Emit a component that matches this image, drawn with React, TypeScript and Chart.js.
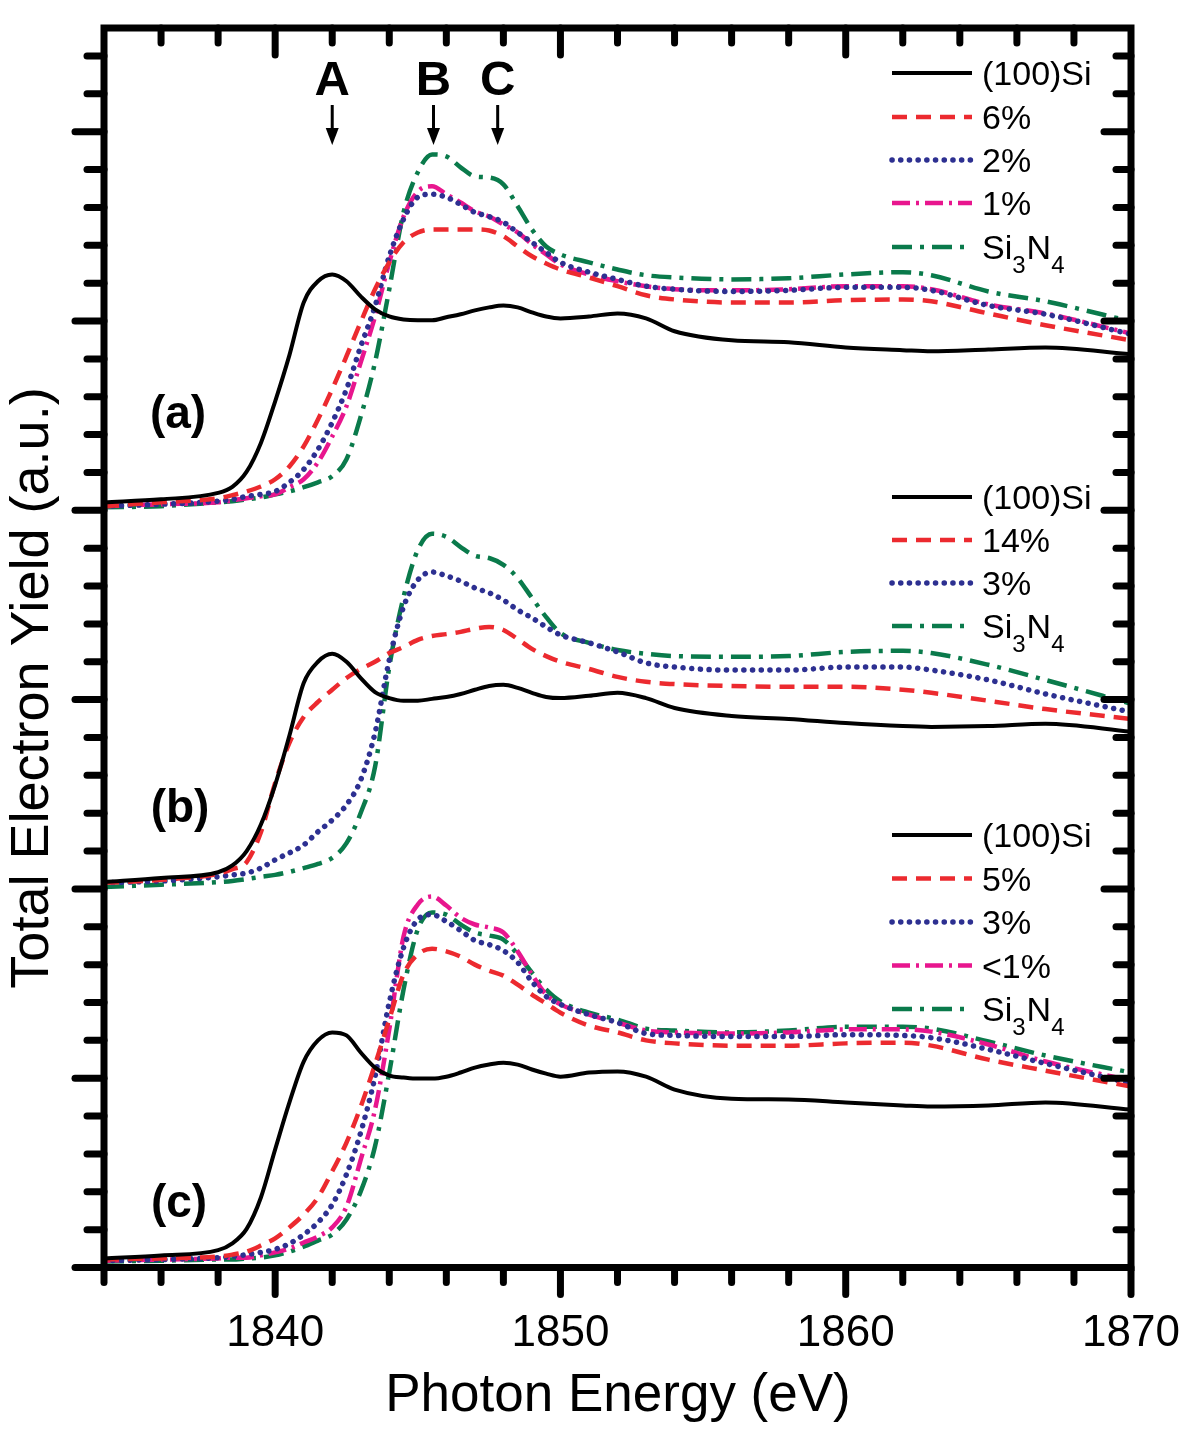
import React, { useEffect, useRef } from 'react';
import { Chart, registerables } from 'chart.js';

Chart.register(...registerables);

// ---------- data ----------
const energy = [1834, 1836, 1838, 1838.5, 1839, 1839.5, 1840, 1840.5, 1841, 1841.5, 1842, 1842.5, 1843, 1843.5, 1844, 1844.5, 1845, 1845.5, 1846, 1846.5, 1847, 1847.5, 1848, 1848.5, 1849, 1849.5, 1850, 1851, 1852, 1853, 1854, 1856, 1858, 1860, 1862, 1863, 1865, 1867, 1870];

// panel (a)
const aSi100 = [0.021, 0.029, 0.046, 0.062, 0.102, 0.178, 0.288, 0.410, 0.549, 0.605, 0.623, 0.605, 0.565, 0.531, 0.512, 0.504, 0.502, 0.502, 0.510, 0.518, 0.528, 0.536, 0.541, 0.536, 0.523, 0.512, 0.507, 0.512, 0.520, 0.507, 0.473, 0.449, 0.444, 0.430, 0.423, 0.420, 0.425, 0.430, 0.412];
const a6pct = [0.011, 0.021, 0.032, 0.040, 0.050, 0.063, 0.082, 0.116, 0.169, 0.240, 0.320, 0.407, 0.497, 0.584, 0.655, 0.708, 0.734, 0.742, 0.742, 0.742, 0.742, 0.739, 0.724, 0.697, 0.671, 0.652, 0.636, 0.615, 0.592, 0.568, 0.557, 0.549, 0.549, 0.555, 0.557, 0.552, 0.520, 0.489, 0.449];
const a2pct = [0.011, 0.016, 0.024, 0.029, 0.037, 0.042, 0.050, 0.074, 0.108, 0.161, 0.232, 0.320, 0.433, 0.539, 0.671, 0.769, 0.827, 0.835, 0.827, 0.808, 0.787, 0.776, 0.761, 0.734, 0.708, 0.681, 0.655, 0.629, 0.610, 0.592, 0.584, 0.578, 0.581, 0.589, 0.589, 0.581, 0.541, 0.518, 0.465];
const a1pct = [0.011, 0.016, 0.021, 0.026, 0.032, 0.037, 0.042, 0.061, 0.082, 0.127, 0.195, 0.275, 0.391, 0.512, 0.655, 0.776, 0.842, 0.856, 0.835, 0.813, 0.790, 0.776, 0.755, 0.734, 0.703, 0.676, 0.650, 0.623, 0.605, 0.592, 0.584, 0.581, 0.584, 0.592, 0.592, 0.584, 0.544, 0.520, 0.467];
const aSi3N4 = [0.008, 0.011, 0.021, 0.024, 0.029, 0.034, 0.042, 0.050, 0.061, 0.074, 0.090, 0.135, 0.248, 0.391, 0.584, 0.787, 0.893, 0.940, 0.935, 0.906, 0.882, 0.879, 0.861, 0.803, 0.742, 0.697, 0.676, 0.655, 0.636, 0.621, 0.615, 0.610, 0.613, 0.623, 0.629, 0.621, 0.578, 0.552, 0.499];

// panel (b)
const bSi100 = [0.018, 0.029, 0.044, 0.062, 0.100, 0.170, 0.275, 0.405, 0.544, 0.600, 0.621, 0.600, 0.557, 0.520, 0.504, 0.497, 0.497, 0.502, 0.507, 0.515, 0.526, 0.536, 0.539, 0.531, 0.518, 0.507, 0.504, 0.510, 0.518, 0.504, 0.478, 0.457, 0.449, 0.438, 0.430, 0.428, 0.430, 0.436, 0.415];
const b14pct = [0.016, 0.024, 0.040, 0.052, 0.071, 0.150, 0.280, 0.386, 0.454, 0.494, 0.526, 0.557, 0.581, 0.600, 0.623, 0.639, 0.658, 0.668, 0.673, 0.679, 0.687, 0.692, 0.684, 0.660, 0.634, 0.615, 0.600, 0.581, 0.560, 0.547, 0.541, 0.536, 0.534, 0.534, 0.526, 0.518, 0.497, 0.475, 0.449];
const b3pct = [0.016, 0.021, 0.032, 0.037, 0.042, 0.055, 0.077, 0.095, 0.116, 0.151, 0.182, 0.222, 0.288, 0.412, 0.605, 0.745, 0.816, 0.837, 0.827, 0.813, 0.795, 0.782, 0.763, 0.737, 0.716, 0.692, 0.671, 0.650, 0.626, 0.597, 0.586, 0.578, 0.578, 0.586, 0.586, 0.578, 0.552, 0.515, 0.467];
const bSi3N4 = [0.005, 0.011, 0.018, 0.021, 0.026, 0.032, 0.037, 0.045, 0.055, 0.066, 0.082, 0.121, 0.201, 0.322, 0.586, 0.771, 0.895, 0.938, 0.930, 0.903, 0.880, 0.874, 0.856, 0.821, 0.769, 0.718, 0.676, 0.650, 0.631, 0.621, 0.615, 0.613, 0.615, 0.626, 0.629, 0.623, 0.592, 0.552, 0.489];

// panel (c)
const cSi100 = [0.024, 0.032, 0.046, 0.064, 0.102, 0.185, 0.312, 0.436, 0.544, 0.600, 0.621, 0.613, 0.568, 0.528, 0.507, 0.502, 0.499, 0.499, 0.504, 0.515, 0.528, 0.536, 0.541, 0.536, 0.523, 0.512, 0.504, 0.515, 0.518, 0.504, 0.470, 0.446, 0.444, 0.436, 0.428, 0.425, 0.428, 0.436, 0.417];
const c5pct = [0.021, 0.024, 0.029, 0.034, 0.042, 0.058, 0.077, 0.106, 0.140, 0.185, 0.254, 0.330, 0.425, 0.536, 0.655, 0.774, 0.827, 0.842, 0.835, 0.821, 0.800, 0.784, 0.771, 0.747, 0.721, 0.697, 0.673, 0.639, 0.621, 0.600, 0.592, 0.586, 0.586, 0.592, 0.594, 0.586, 0.549, 0.520, 0.478];
const c3pct = [0.018, 0.021, 0.026, 0.029, 0.034, 0.040, 0.048, 0.063, 0.087, 0.119, 0.166, 0.246, 0.357, 0.504, 0.700, 0.845, 0.919, 0.932, 0.914, 0.890, 0.864, 0.853, 0.837, 0.806, 0.755, 0.716, 0.695, 0.668, 0.647, 0.618, 0.613, 0.610, 0.610, 0.615, 0.613, 0.607, 0.576, 0.539, 0.486];
const cLt1pct = [0.018, 0.021, 0.024, 0.026, 0.026, 0.032, 0.040, 0.050, 0.066, 0.082, 0.106, 0.161, 0.285, 0.417, 0.629, 0.874, 0.959, 0.980, 0.956, 0.924, 0.906, 0.898, 0.885, 0.835, 0.774, 0.721, 0.695, 0.668, 0.647, 0.626, 0.621, 0.618, 0.621, 0.629, 0.629, 0.623, 0.589, 0.544, 0.494];
const cSi3N4 = [0.016, 0.018, 0.021, 0.021, 0.024, 0.026, 0.032, 0.042, 0.055, 0.071, 0.087, 0.127, 0.201, 0.320, 0.515, 0.734, 0.893, 0.938, 0.932, 0.906, 0.885, 0.877, 0.866, 0.827, 0.779, 0.734, 0.703, 0.673, 0.655, 0.631, 0.626, 0.621, 0.626, 0.636, 0.636, 0.631, 0.597, 0.560, 0.515];

// vertical offsets of the stacked panels (a.u.)
const panelOffsets = [2.0, 1.0, 0.0];
const panelTags = ['(a)', '(b)', '(c)'];

const legendA = ['(100)Si', '6%', '2%', '1%', 'Si_3N_4'];
const legendB = ['(100)Si', '14%', '3%', 'Si_3N_4'];
const legendC = ['(100)Si', '5%', '3%', '<1%', 'Si_3N_4'];

const peakLabels = ['A', 'B', 'C'];
const peakEnergies = [1842.0, 1845.55, 1847.8];

const xTickLabels = [1840, 1850, 1860, 1870];
const X_MIN = 1834;
const X_MAX = 1870;
const Y_MIN = 0;
const Y_MAX = 3.274;

// ---------- styles ----------
type Sty = { color: string; dash: number[]; width: number; cap: CanvasLineCap };
const STYLES: Record<string, Sty> = {
  si: { color: '#000000', dash: [], width: 4, cap: 'butt' },
  red: { color: '#ec2a2f', dash: [15, 9], width: 4.5, cap: 'butt' },
  blue: { color: '#2d3091', dash: [0.1, 8.6], width: 5.5, cap: 'round' },
  magenta: { color: '#e8168e', dash: [18, 6, 3, 6], width: 4.5, cap: 'butt' },
  green: { color: '#0a7a4b', dash: [20, 8, 4, 8], width: 4.5, cap: 'butt' },
};

const panelSeries: { label: string; values: number[]; style: string }[][] = [
  [
    { label: legendA[0], values: aSi100, style: 'si' },
    { label: legendA[1], values: a6pct, style: 'red' },
    { label: legendA[2], values: a2pct, style: 'blue' },
    { label: legendA[3], values: a1pct, style: 'magenta' },
    { label: legendA[4], values: aSi3N4, style: 'green' },
  ],
  [
    { label: legendB[0], values: bSi100, style: 'si' },
    { label: legendB[1], values: b14pct, style: 'red' },
    { label: legendB[2], values: b3pct, style: 'blue' },
    { label: legendB[3], values: bSi3N4, style: 'green' },
  ],
  [
    { label: legendC[0], values: cSi100, style: 'si' },
    { label: legendC[1], values: c5pct, style: 'red' },
    { label: legendC[2], values: c3pct, style: 'blue' },
    { label: legendC[3], values: cLt1pct, style: 'magenta' },
    { label: legendC[4], values: cSi3N4, style: 'green' },
  ],
];

const FONT = "'Liberation Sans', Arial, Helvetica, sans-serif";

// legend row positions (px) for each panel
const LEGEND_ROWS = [
  [73, 117, 160, 203, 247],
  [497, 540, 583, 626],
  [835, 878.5, 922, 965.5, 1009],
];
const PANEL_TAG_POS = [
  { x: 178, base: 428 },
  { x: 180, base: 822 },
  { x: 179, base: 1217 },
];

function drawRich(ctx: CanvasRenderingContext2D, text: string, x: number, base: number, size: number) {
  const parts: { t: string; sub: boolean }[] = [];
  const re = /_(\d)/g;
  let last = 0;
  let m: RegExpExecArray | null;
  while ((m = re.exec(text))) {
    if (m.index > last) parts.push({ t: text.slice(last, m.index), sub: false });
    parts.push({ t: m[1], sub: true });
    last = m.index + m[0].length;
  }
  if (last < text.length) parts.push({ t: text.slice(last), sub: false });
  let cx = x;
  ctx.textAlign = 'left';
  ctx.textBaseline = 'alphabetic';
  for (const p of parts) {
    const fs = p.sub ? Math.round(size * 0.72) : size;
    ctx.font = `${fs}px ${FONT}`;
    ctx.fillText(p.t, cx, p.sub ? base + 14 : base);
    cx += ctx.measureText(p.t).width + (p.sub ? 1 : 0);
  }
}

const overlayPlugin = {
  id: 'overlay',
  beforeDraw(chart: any) {
    const ctx = chart.ctx as CanvasRenderingContext2D;
    ctx.save();
    ctx.fillStyle = '#ffffff';
    ctx.fillRect(0, 0, chart.width, chart.height);
    ctx.restore();
  },
  afterDatasetsDraw(chart: any) {
    const ctx = chart.ctx as CanvasRenderingContext2D;
    const a = chart.chartArea;
    const xs = chart.scales.x;
    const ys = chart.scales.y;
    ctx.save();
    ctx.strokeStyle = '#000';
    ctx.fillStyle = '#000';

    // frame
    ctx.lineWidth = 7;
    ctx.lineJoin = 'miter';
    ctx.setLineDash([]);
    ctx.strokeRect(a.left, a.top, a.right - a.left, a.bottom - a.top);

    // ticks
    ctx.lineCap = 'round';
    ctx.lineWidth = 7;
    for (let k = 0; k <= (X_MAX - X_MIN) / 2; k++) {
      const e = X_MIN + 2 * k;
      const px = xs.getPixelForValue(e);
      const major = e % 10 === 0;
      ctx.beginPath();
      ctx.moveTo(px, a.bottom);
      ctx.lineTo(px, a.bottom + (major ? 27 : 15));
      ctx.stroke();
      if (e > X_MIN && e < X_MAX) {
        ctx.beginPath();
        ctx.moveTo(px, a.top);
        ctx.lineTo(px, a.top + (major ? 27 : 15));
        ctx.stroke();
      }
    }
    for (let k = 0; k * 0.1 <= Y_MAX; k++) {
      const v = k * 0.1;
      const py = ys.getPixelForValue(v);
      const major = k % 5 === 0;
      ctx.beginPath();
      ctx.moveTo(a.left, py);
      ctx.lineTo(a.left - (major ? 29 : 17), py);
      ctx.stroke();
      if (k > 0) {
        ctx.beginPath();
        ctx.moveTo(a.right, py);
        ctx.lineTo(a.right - (major ? 27 : 15), py);
        ctx.stroke();
      }
    }

    // tick labels
    ctx.font = `44px ${FONT}`;
    ctx.textAlign = 'center';
    ctx.textBaseline = 'alphabetic';
    for (const t of xTickLabels) {
      ctx.fillText(String(t), xs.getPixelForValue(t), a.bottom + 78);
    }

    // axis titles
    ctx.font = `53px ${FONT}`;
    ctx.fillText('Photon Energy (eV)', (a.left + a.right) / 2 + 0.5, 1411);
    ctx.save();
    ctx.font = `54px ${FONT}`;
    ctx.translate(48, 688);
    ctx.rotate(-Math.PI / 2);
    ctx.textAlign = 'center';
    ctx.fillText('Total Electron Yield (a.u.)', 0, 0);
    ctx.restore();

    // peak markers
    ctx.font = `bold 49px ${FONT}`;
    ctx.textAlign = 'center';
    ctx.lineCap = 'butt';
    peakLabels.forEach((lab, i) => {
      const px = xs.getPixelForValue(peakEnergies[i]);
      ctx.fillText(lab, px, 95);
      ctx.lineWidth = 3;
      ctx.beginPath();
      ctx.moveTo(px, 105);
      ctx.lineTo(px, 132);
      ctx.stroke();
      ctx.beginPath();
      ctx.moveTo(px - 6.5, 128);
      ctx.lineTo(px + 6.5, 128);
      ctx.lineTo(px, 145);
      ctx.closePath();
      ctx.fill();
    });

    // panel tags
    ctx.font = `bold 46px ${FONT}`;
    panelTags.forEach((tag, i) => {
      ctx.fillText(tag, PANEL_TAG_POS[i].x, PANEL_TAG_POS[i].base);
    });

    // legends
    panelSeries.forEach((series, pi) => {
      series.forEach((s, ri) => {
        const st = STYLES[s.style];
        const y = LEGEND_ROWS[pi][ri];
        ctx.save();
        ctx.strokeStyle = st.color;
        ctx.lineWidth = st.width;
        ctx.lineCap = st.cap;
        ctx.setLineDash(st.dash);
        ctx.beginPath();
        ctx.moveTo(892, y);
        ctx.lineTo(972, y);
        ctx.stroke();
        ctx.restore();
        ctx.fillStyle = '#000';
        drawRich(ctx, s.label, 982, y + 12, 34);
      });
    });

    ctx.restore();
  },
};

export default function App() {
  const ref = useRef<HTMLCanvasElement | null>(null);
  useEffect(() => {
    const canvas = ref.current;
    if (!canvas) return;
    const datasets: any[] = [];
    panelSeries.forEach((series, pi) => {
      series.forEach((s) => {
        const st = STYLES[s.style];
        datasets.push({
          label: `${panelTags[pi]} ${s.label}`,
          data: energy.map((e, i) => ({ x: e, y: s.values[i] + panelOffsets[pi] })),
          borderColor: st.color,
          backgroundColor: st.color,
          borderWidth: st.width,
          borderDash: st.dash,
          borderCapStyle: st.cap,
          borderJoinStyle: 'round',
          pointRadius: 0,
          fill: false,
          cubicInterpolationMode: 'monotone',
        });
      });
    });
    const chart = new Chart(canvas, {
      type: 'line',
      data: { datasets },
      options: {
        responsive: false,
        animation: false,
        devicePixelRatio: 1,
        events: [],
        layout: { padding: { left: 104, top: 28, right: 69, bottom: 168.5 } },
        plugins: { legend: { display: false }, tooltip: { enabled: false } },
        scales: {
          x: { type: 'linear', min: X_MIN, max: X_MAX, display: false },
          y: { type: 'linear', min: Y_MIN, max: Y_MAX, display: false },
        },
      },
      plugins: [overlayPlugin],
    } as any);
    return () => chart.destroy();
  }, []);
  return (
    <div style={{ position: 'absolute', left: 0, top: 0, width: 1200, height: 1436, background: '#fff' }}>
      <canvas ref={ref} width={1200} height={1436} style={{ display: 'block' }} />
    </div>
  );
}
